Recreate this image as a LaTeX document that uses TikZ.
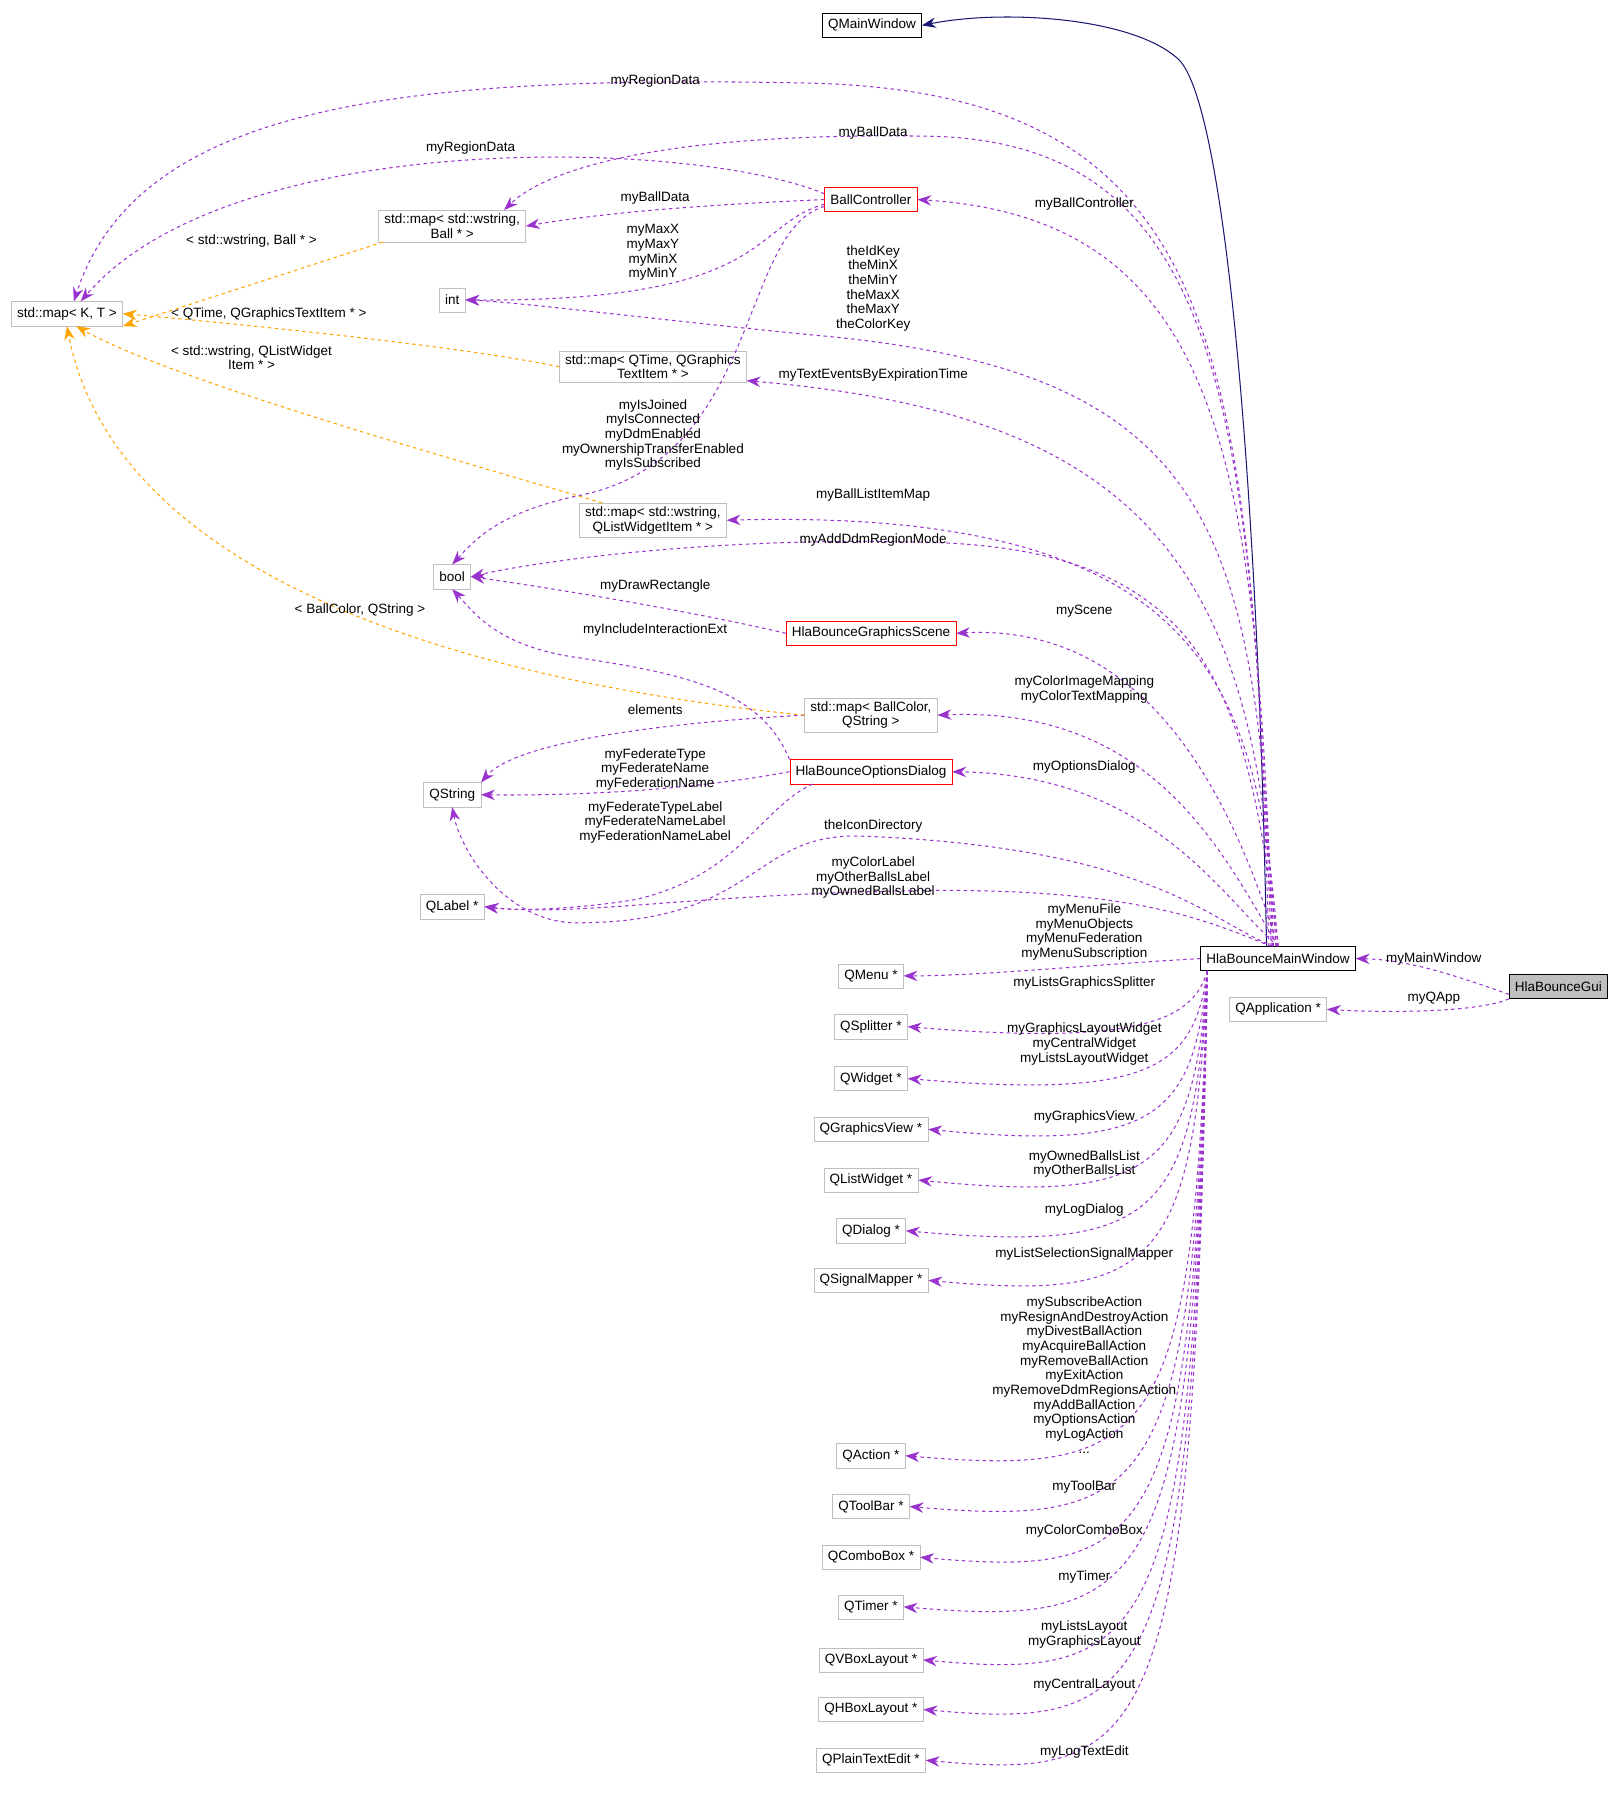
\documentclass[tikz,border=0pt]{standalone}
\usepackage{fontspec}
\setmainfont{Liberation Sans}
\usetikzlibrary{arrows.meta}
\definecolor{depcol}{HTML}{9A32CD}
\definecolor{tplcol}{HTML}{FFA500}
\definecolor{inhcol}{HTML}{191970}
\definecolor{boxgray}{HTML}{BFBFBF}
\tikzset{
  cls/.style={draw=boxgray,rectangle,minimum height=21pt,inner sep=5pt,inner ysep=3pt,align=center,font=\fontsize{11.7}{12.7}\selectfont},
  main/.style={cls,draw=black},
  redcls/.style={cls,draw=red},
  dep/.style={draw=depcol,dashed,line width=0.9pt,-{Stealth[length=12pt,width=9pt]}},
  tpl/.style={draw=tplcol,dashed,line width=0.9pt,-{Stealth[length=12pt,width=9pt]}},
  inh/.style={draw=inhcol,line width=0.9pt,-{Stealth[length=12pt,width=9pt]}},
  lbl/.style={align=center,inner sep=0pt,font=\fontsize{11.7}{12.7}\selectfont},
}
\newcommand{\botedge}[2]{\draw[dep] ([xshift=6pt]mw.south west) .. controls (1035,#2) and (1000,#2+28) .. (#1.east);}
\begin{document}
\begin{tikzpicture}[x=1pt,y=-1pt]
  \useasboundingbox (0,0) rectangle (1405,1570);
  % Classes
  \node[main] (qmw) at (756,22) {QMainWindow};
  \node[redcls] (bc) at (755,173) {BallController};
  \node[cls] (ballmap) at (392,196) {std::map\textless{} std::wstring,\\Ball * \textgreater{}};
  \node[cls] (kt) at (58,272) {std::map\textless{} K, T \textgreater{}};
  \node[cls] (int) at (392,260) {int};
  \node[cls] (tetmap) at (566,318) {std::map\textless{} QTime, QGraphics\\TextItem * \textgreater{}};
  \node[cls] (listmap) at (566,451) {std::map\textless{} std::wstring,\\QListWidgetItem * \textgreater{}};
  \node[cls] (bool) at (392,500) {bool};
  \node[redcls] (scene) at (755,549) {HlaBounceGraphicsScene};
  \node[cls] (colormap) at (755,620) {std::map\textless{} BallColor,\\QString \textgreater{}};
  \node[cls] (qstring) at (392,689) {QString};
  \node[redcls] (options) at (755,669) {HlaBounceOptionsDialog};
  \node[cls] (qlabel) at (392,786) {QLabel *};
  \node[cls] (qmenu) at (755,846) {QMenu *};
  \node[cls] (qsplitter) at (755,890) {QSplitter *};
  \node[cls] (qwidget) at (755,935) {QWidget *};
  \node[cls] (qgview) at (755,979) {QGraphicsView *};
  \node[cls] (qlist) at (755,1023) {QListWidget *};
  \node[cls] (qdialog) at (755,1067) {QDialog *};
  \node[cls] (qsigmap) at (755,1110) {QSignalMapper *};
  \node[cls] (qaction) at (755,1262) {QAction *};
  \node[cls] (qtoolbar) at (755,1306) {QToolBar *};
  \node[cls] (qcombo) at (755,1350) {QComboBox *};
  \node[cls] (qtimer) at (755,1393) {QTimer *};
  \node[cls] (qvbox) at (755,1439) {QVBoxLayout *};
  \node[cls] (qhbox) at (755,1482) {QHBoxLayout *};
  \node[cls] (qplain) at (755,1526) {QPlainTextEdit *};
  \node[main] (mw) at (1108,831) {HlaBounceMainWindow};
  \node[cls] (qapp) at (1108,875) {QApplication *};
  \node[main,fill=boxgray] (gui) at (1351,855) {HlaBounceGui};

  % Inheritance
  \draw[inh] ([xshift=-10pt]mw.north) .. controls (1090,400) and (1060,80) .. (1020,50) .. controls (980,15) and (870,8) .. (qmw.east);

  % Upward members of HlaBounceMainWindow
  \draw[dep] ([xshift=-8pt]mw.north) .. controls (1085,300) and (1060,80) .. (700,72) .. controls (350,65) and (120,90) .. ([xshift=6pt]kt.north);
  \draw[dep] ([xshift=-6pt]mw.north) .. controls (1085,350) and (1060,120) .. (800,118) .. controls (560,115) and (470,150) .. ([xshift=45pt]ballmap.north);
  \draw[dep] ([xshift=-5pt]mw.north) .. controls (1090,400) and (1060,190) .. (bc.east);
  \draw[dep] ([xshift=-4pt]mw.north) .. controls (1090,450) and (1050,320) .. (700,290) .. controls (550,275) and (450,262) .. (int.east);
  \draw[dep] ([xshift=-2pt]mw.north) .. controls (1090,500) and (1000,360) .. ([yshift=-12pt]tetmap.east);
  \draw[dep] (mw.north) .. controls (1090,600) and (1050,440) .. (listmap.east);
  \draw[dep] (mw.north) .. controls (1080,600) and (1050,475) .. (800,470) .. controls (600,465) and (450,490) .. (bool.east);
  \draw[dep] (mw.north) .. controls (1070,700) and (1000,540) .. (scene.east);
  \draw[dep] (mw.north) .. controls (1060,740) and (1000,612) .. (colormap.east);
  \draw[dep] (mw.north) .. controls (1060,780) and (1000,672) .. (options.east);
  \draw[dep] ([xshift=-4pt]mw.north) .. controls (1050,800) and (1000,735) .. (750,725) .. controls (650,720) and (660,800) .. (500,800) .. controls (440,800) and (400,740) .. (qstring.south);
  \draw[dep] ([xshift=-6pt]mw.north) .. controls (1050,800) and (990,770) .. (800,772) .. controls (600,775) and (500,795) .. (qlabel.east);

  % Members of BallController
  \draw[dep] ([yshift=5pt]bc.west) .. controls (600,120) and (200,110) .. ([xshift=12pt]kt.north);
  \draw[dep] (bc.west) .. controls (600,178) and (520,185) .. (ballmap.east);
  \draw[dep] ([yshift=-4pt]bc.west) .. controls (650,195) and (670,262) .. (int.east);
  \draw[dep] ([yshift=-6pt]bc.west) .. controls (640,200) and (660,400) .. (500,430) .. controls (430,445) and (410,470) .. (bool.north);

  % Other members
  \draw[dep] (scene.west) .. controls (600,530) and (480,510) .. (bool.east);
  \draw[dep] (options.north west) .. controls (660,600) and (600,585) .. (500,570) .. controls (430,560) and (410,530) .. (bool.south);
  \draw[dep] (colormap.west) .. controls (600,625) and (450,640) .. (qstring.north east);
  \draw[dep] (options.west) .. controls (600,685) and (500,690) .. (qstring.east);
  \draw[dep] ([xshift=20pt]options.south west) .. controls (660,700) and (640,760) .. (550,780) .. controls (500,788) and (450,790) .. (qlabel.east);

  % Template instances
  \draw[tpl] ([xshift=-60pt]ballmap.south) -- (kt.south east);
  \draw[tpl] (tetmap.west) .. controls (400,300) and (200,280) .. (kt.east);
  \draw[tpl] ([xshift=20pt]listmap.north west) .. controls (400,400) and (150,330) .. ([xshift=8pt]kt.south);
  \draw[tpl] (colormap.west) .. controls (400,590) and (100,500) .. (kt.south);

  % Downward members of HlaBounceMainWindow
  \draw[dep] (mw.west) .. controls (950,836) and (850,846) .. (qmenu.east);
  \botedge{qsplitter}{880}
  \botedge{qwidget}{925}
  \botedge{qgview}{970}
  \botedge{qlist}{1015}
  \botedge{qdialog}{1058}
  \botedge{qsigmap}{1100}
  \botedge{qaction}{1252}
  \botedge{qtoolbar}{1296}
  \botedge{qcombo}{1340}
  \botedge{qtimer}{1383}
  \botedge{qvbox}{1429}
  \botedge{qhbox}{1472}
  \botedge{qplain}{1516}
  \draw[dep] ([yshift=-7pt]gui.west) .. controls (1260,845) and (1220,832) .. (mw.east);
  \draw[dep] ([yshift=-11pt]gui.west) .. controls (1280,878) and (1200,878) .. (qapp.east);

  % Labels
  \node[lbl] at (568,70) {myRegionData};
  \node[lbl] at (408,128) {myRegionData};
  \node[lbl] at (757,115) {myBallData};
  \node[lbl] at (568,172) {myBallData};
  \node[lbl] at (940,177) {myBallController};
  \node[lbl] at (218,209) {\textless{} std::wstring, Ball * \textgreater{}};
  \node[lbl] at (566,219) {myMaxX\\myMaxY\\myMinX\\myMinY};
  \node[lbl] at (757,250) {theIdKey\\theMinX\\theMinY\\theMaxX\\theMaxY\\theColorKey};
  \node[lbl] at (233,272) {\textless{} QTime, QGraphicsTextItem * \textgreater{}};
  \node[lbl] at (218,310) {\textless{} std::wstring, QListWidget\\Item * \textgreater{}};
  \node[lbl] at (757,325) {myTextEventsByExpirationTime};
  \node[lbl] at (566,377) {myIsJoined\\myIsConnected\\myDdmEnabled\\myOwnershipTransferEnabled\\myIsSubscribed};
  \node[lbl] at (757,429) {myBallListItemMap};
  \node[lbl] at (757,468) {myAddDdmRegionMode};
  \node[lbl] at (568,508) {myDrawRectangle};
  \node[lbl] at (312,529) {\textless{} BallColor, QString \textgreater{}};
  \node[lbl] at (940,530) {myScene};
  \node[lbl] at (568,546) {myIncludeInteractionExt};
  \node[lbl] at (940,598) {myColorImageMapping\\myColorTextMapping};
  \node[lbl] at (568,615) {elements};
  \node[lbl] at (940,665) {myOptionsDialog};
  \node[lbl] at (568,667) {myFederateType\\myFederateName\\myFederationName};
  \node[lbl] at (568,713) {myFederateTypeLabel\\myFederateNameLabel\\myFederationNameLabel};
  \node[lbl] at (757,716) {theIconDirectory};
  \node[lbl] at (757,761) {myColorLabel\\myOtherBallsLabel\\myOwnedBallsLabel};
  \node[lbl] at (940,808) {myMenuFile\\myMenuObjects\\myMenuFederation\\myMenuSubscription};
  \node[lbl] at (940,852) {myListsGraphicsSplitter};
  \node[lbl] at (940,905) {myGraphicsLayoutWidget\\myCentralWidget\\myListsLayoutWidget};
  \node[lbl] at (940,968) {myGraphicsView};
  \node[lbl] at (940,1009) {myOwnedBallsList\\myOtherBallsList};
  \node[lbl] at (940,1049) {myLogDialog};
  \node[lbl] at (940,1087) {myListSelectionSignalMapper};
  \node[lbl] at (940,1192) {mySubscribeAction\\myResignAndDestroyAction\\myDivestBallAction\\myAcquireBallAction\\myRemoveBallAction\\myExitAction\\myRemoveDdmRegionsAction\\myAddBallAction\\myOptionsAction\\myLogAction\\...};
  \node[lbl] at (940,1289) {myToolBar};
  \node[lbl] at (940,1327) {myColorComboBox};
  \node[lbl] at (940,1367) {myTimer};
  \node[lbl] at (940,1417) {myListsLayout\\myGraphicsLayout};
  \node[lbl] at (940,1461) {myCentralLayout};
  \node[lbl] at (940,1519) {myLogTextEdit};
  \node[lbl] at (1243,831) {myMainWindow};
  \node[lbl] at (1243,865) {myQApp};
\end{tikzpicture}
\end{document}
